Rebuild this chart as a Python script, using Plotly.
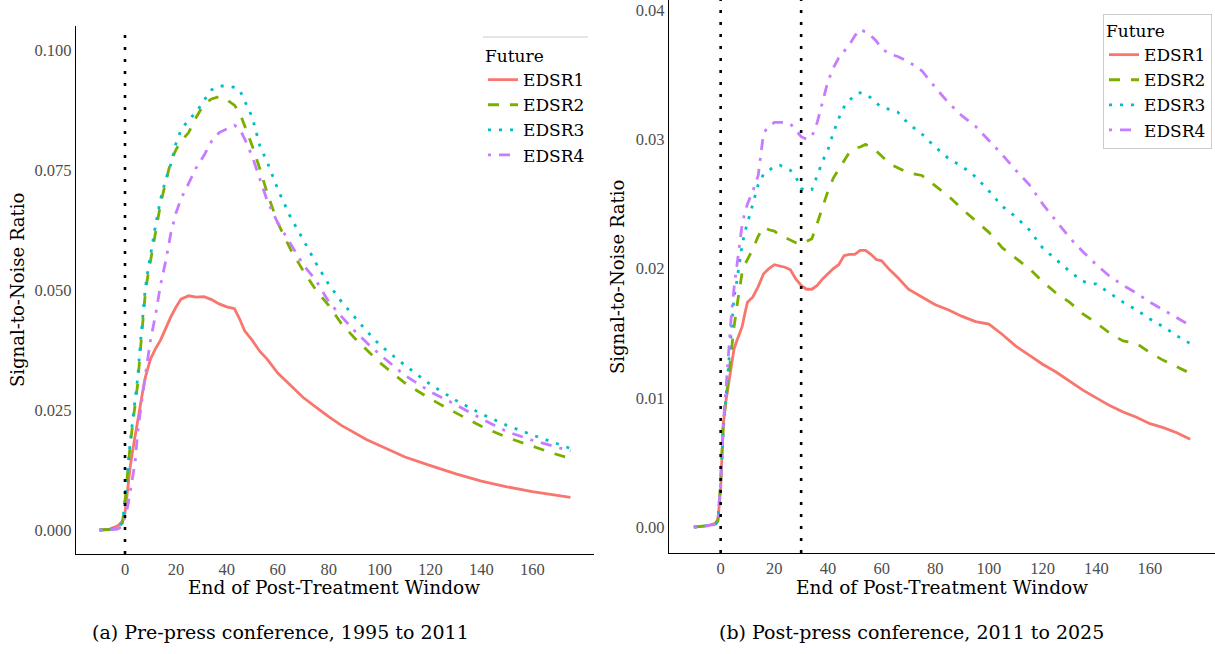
import plotly.graph_objects as go

# ---------------- data: left panel (Pre-press conference, 1995 to 2011) ----------------
x_left = [-10, -6, -3, -1, 0, 1, 2, 3, 4, 5, 6, 7, 8, 9, 10, 12, 14, 16, 18, 20, 22, 25, 28,
          31, 34, 37, 40, 43, 45, 47, 50, 53, 56, 60, 65, 70, 75, 80, 85, 90, 95, 100, 110,
          120, 130, 140, 150, 160, 168, 175]
edsr1_left = [0.0000, 0.0002, 0.0008, 0.0018, 0.0035, 0.0085, 0.0130, 0.0165, 0.0198, 0.0228,
              0.0256, 0.0290, 0.0318, 0.0338, 0.0356, 0.0378, 0.0396, 0.0420, 0.0444, 0.0464,
              0.0481, 0.0488, 0.0485, 0.0486, 0.0480, 0.0471, 0.0465, 0.0461, 0.0440, 0.0415,
              0.0395, 0.0372, 0.0355, 0.0327, 0.0302, 0.0276, 0.0256, 0.0236, 0.0218, 0.0203,
              0.0188, 0.0176, 0.0152, 0.0134, 0.0117, 0.0102, 0.0090, 0.0080, 0.0073, 0.0068]
edsr2_left = [0.0000, 0.0001, 0.0005, 0.0015, 0.0060, 0.0120, 0.0175, 0.0220, 0.0260, 0.0305,
              0.0372, 0.0440, 0.0495, 0.0530, 0.0560, 0.0625, 0.0680, 0.0725, 0.0768, 0.0792,
              0.0810, 0.0828, 0.0860, 0.0887, 0.0898, 0.0903, 0.0896, 0.0885, 0.0870, 0.0842,
              0.0800, 0.0752, 0.0700, 0.0640, 0.0585, 0.0540, 0.0500, 0.0468, 0.0430, 0.0401,
              0.0374, 0.0349, 0.0306, 0.0273, 0.0244, 0.0216, 0.0193, 0.0174, 0.0160, 0.0149]
edsr3_left = [0.0000, 0.0001, 0.0005, 0.0015, 0.0062, 0.0125, 0.0180, 0.0228, 0.0270, 0.0318,
              0.0385, 0.0450, 0.0505, 0.0540, 0.0572, 0.0635, 0.0690, 0.0730, 0.0762, 0.0805,
              0.0833, 0.0855, 0.0870, 0.0895, 0.0917, 0.0925, 0.0925, 0.0922, 0.0917, 0.0893,
              0.0860, 0.0800, 0.0765, 0.0710, 0.0652, 0.0605, 0.0556, 0.0512, 0.0476, 0.0445,
              0.0414, 0.0386, 0.0343, 0.0303, 0.0270, 0.0242, 0.0218, 0.0198, 0.0183, 0.0170]
edsr4_left = [0.0000, 0.0000, 0.0002, 0.0008, 0.0028, 0.0048, 0.0078, 0.0110, 0.0142, 0.0205,
              0.0250, 0.0285, 0.0322, 0.0360, 0.0395, 0.0448, 0.0512, 0.0560, 0.0618, 0.0660,
              0.0690, 0.0722, 0.0755, 0.0780, 0.0810, 0.0828, 0.0836, 0.0843, 0.0836, 0.0815,
              0.0778, 0.0730, 0.0684, 0.0640, 0.0595, 0.0553, 0.0520, 0.0476, 0.0445, 0.0416,
              0.0390, 0.0366, 0.0322, 0.0288, 0.0261, 0.0232, 0.0205, 0.0187, 0.0175, 0.0165]

# ---------------- data: right panel (Post-press conference, 2011 to 2025) ----------------
x_right = [-10, -5, -2, -1, 0, 1, 2, 3, 4, 5, 6, 7, 8, 9, 10, 12, 14, 16, 18, 20, 22, 24, 26,
           28, 30, 32, 34, 36, 38, 40, 42, 44, 46, 48, 50, 52, 54, 56, 58, 60, 63, 66, 70, 75,
           80, 85, 90, 95, 100, 105, 110, 115, 120, 125, 130, 135, 140, 145, 150, 155, 160,
           165, 170, 175]
edsr1_right = [0.0000, 0.0001, 0.0003, 0.0006, 0.0030, 0.0080, 0.0098, 0.0112, 0.0125, 0.0138,
               0.0144, 0.0150, 0.0155, 0.0165, 0.0174, 0.0178, 0.0186, 0.0196, 0.0200, 0.0203,
               0.0202, 0.0201, 0.0199, 0.0192, 0.0187, 0.0184, 0.0184, 0.0187, 0.0192, 0.0196,
               0.0200, 0.0203, 0.0210, 0.0211, 0.0211, 0.0214, 0.0214, 0.0211, 0.0207, 0.0206,
               0.0199, 0.0193, 0.0184, 0.0178, 0.0172, 0.0168, 0.0163, 0.0159, 0.0157, 0.0149,
               0.0140, 0.0133, 0.0126, 0.0120, 0.0113, 0.0106, 0.0100, 0.0094, 0.0089, 0.0085,
               0.0080, 0.0077, 0.0073, 0.0068]
edsr2_right = [0.0000, 0.0001, 0.0002, 0.0005, 0.0035, 0.0080, 0.0100, 0.0117, 0.0138, 0.0155,
               0.0170, 0.0183, 0.0197, 0.0203, 0.0207, 0.0215, 0.0225, 0.0232, 0.0230, 0.0229,
               0.0226, 0.0224, 0.0222, 0.0220, 0.0219, 0.0221, 0.0223, 0.0235, 0.0248, 0.0260,
               0.0270, 0.0277, 0.0284, 0.0290, 0.0293, 0.0294, 0.0296, 0.0294, 0.0291, 0.0287,
               0.0281, 0.0278, 0.0274, 0.0272, 0.0264, 0.0256, 0.0246, 0.0237, 0.0228, 0.0216,
               0.0208, 0.0200, 0.0190, 0.0181, 0.0174, 0.0165, 0.0158, 0.0150, 0.0144, 0.0142,
               0.0135, 0.0129, 0.0124, 0.0119]
edsr3_right = [0.0000, 0.0001, 0.0002, 0.0005, 0.0035, 0.0075, 0.0102, 0.0128, 0.0155, 0.0178,
               0.0190, 0.0204, 0.0218, 0.0228, 0.0236, 0.0250, 0.0265, 0.0273, 0.0276, 0.0279,
               0.0280, 0.0278, 0.0276, 0.0271, 0.0262, 0.0260, 0.0261, 0.0272, 0.0283, 0.0292,
               0.0305, 0.0316, 0.0325, 0.0330, 0.0334, 0.0336, 0.0335, 0.0332, 0.0328, 0.0325,
               0.0323, 0.0321, 0.0312, 0.0304, 0.0294, 0.0285, 0.0279, 0.0271, 0.0260, 0.0248,
               0.0240, 0.0230, 0.0216, 0.0207, 0.0198, 0.0190, 0.0188, 0.0181, 0.0174, 0.0168,
               0.0161, 0.0155, 0.0148, 0.0142]
edsr4_right = [0.0000, 0.0001, 0.0002, 0.0005, 0.0035, 0.0080, 0.0110, 0.0138, 0.0164, 0.0185,
               0.0203, 0.0220, 0.0234, 0.0243, 0.0250, 0.0260, 0.0272, 0.0305, 0.0310, 0.0313,
               0.0313, 0.0313, 0.0312, 0.0307, 0.0302, 0.0300, 0.0302, 0.0313, 0.0330, 0.0345,
               0.0355, 0.0363, 0.0368, 0.0373, 0.0380, 0.0385, 0.0383, 0.0380, 0.0376, 0.0370,
               0.0366, 0.0364, 0.0360, 0.0353, 0.0340, 0.0328, 0.0318, 0.0310, 0.0299, 0.0288,
               0.0276, 0.0265, 0.0250, 0.0237, 0.0224, 0.0213, 0.0203, 0.0194, 0.0187, 0.0181,
               0.0174, 0.0168, 0.0162, 0.0156]

series_names = ["EDSR1", "EDSR2", "EDSR3", "EDSR4"]
vlines_left = [0]
vlines_right = [0, 30]
x_ticks = [0, 20, 40, 60, 80, 100, 120, 140, 160]
y_ticks_left = [0.0, 0.025, 0.05, 0.075, 0.1]
y_ticks_right = [0.0, 0.01, 0.02, 0.03, 0.04]
caption_left = "(a) Pre-press conference, 1995 to 2011"
caption_right = "(b) Post-press conference, 2011 to 2025"
x_title = "End of Post-Treatment Window"
y_title = "Signal-to-Noise Ratio"

# ---------------- styling ----------------
W, H = 1215, 654
colors = ["#F8766D", "#7CAE00", "#00BFC4", "#C77CFF"]
dashes = ["solid", "11px,11px", "3px,8px", "3px,8px,11px,8px"]
SERIF = "Liberation Serif"
WIDE = "DejaVu Serif"
CAP = "DejaVu Serif"

def px_x(p):
    return p / W

def px_y(p):
    return 1 - p / H

fig = go.Figure()
left_vals = [edsr1_left, edsr2_left, edsr3_left, edsr4_left]
right_vals = [edsr1_right, edsr2_right, edsr3_right, edsr4_right]
for name, ys, c, d in zip(series_names, left_vals, colors, dashes):
    fig.add_trace(go.Scatter(x=x_left, y=ys, mode="lines", name=name,
                             line=dict(color=c, width=2.8, dash=d),
                             xaxis="x", yaxis="y", legend="legend"))
for name, ys, c, d in zip(series_names, right_vals, colors, dashes):
    fig.add_trace(go.Scatter(x=x_right, y=ys, mode="lines", name=name,
                             line=dict(color=c, width=2.8, dash=d),
                             xaxis="x2", yaxis="y2", legend="legend2"))

for v in vlines_left:
    fig.add_shape(type="line", x0=v, x1=v, y0=0, y1=1, xref="x", yref="y domain",
                  line=dict(color="black", width=2.6, dash="3px,9px"))
for v in vlines_right:
    fig.add_shape(type="line", x0=v, x1=v, y0=0, y1=1, xref="x2", yref="y2 domain",
                  line=dict(color="black", width=2.6, dash="3px,9px"))

axis_common = dict(showgrid=False, zeroline=False, showline=True, linecolor="black",
                   linewidth=1.3, ticks="", tickfont=dict(family=SERIF, size=16.5, color="#4d4d4d"))

legend_font = dict(family=WIDE, size=17, color="black")
legend_title_font = dict(family=WIDE, size=17, color="black")

fig.update_layout(
    width=W, height=H,
    margin=dict(l=0, r=0, t=0, b=0),
    paper_bgcolor="white", plot_bgcolor="white",
    xaxis=dict(domain=[px_x(76), px_x(594)], range=[-19.25, 184.25], tickvals=x_ticks,
               anchor="y", **axis_common),
    yaxis=dict(domain=[px_y(554), px_y(26)], range=[-0.005, 0.105], tickvals=y_ticks_left,
               tickformat=".3f", anchor="x", **axis_common),
    xaxis2=dict(domain=[px_x(669), 1.0], range=[-19.25, 184.25], tickvals=x_ticks,
                anchor="y2", **axis_common),
    yaxis2=dict(domain=[px_y(553), 1.0], range=[-0.002, 0.04077], tickvals=y_ticks_right,
                tickformat=".2f", anchor="x2", **axis_common),
    legend=dict(x=px_x(483), y=px_y(40), xanchor="left", yanchor="top",
                bgcolor="rgba(255,255,255,0)", borderwidth=0, tracegroupgap=0,
                title=dict(text="Future", font=legend_title_font),
                font=legend_font),
    legend2=dict(x=px_x(1103), y=px_y(14), xanchor="left", yanchor="top",
                 bgcolor="white", bordercolor="#cccccc", borderwidth=1,
                 title=dict(text="Future", font=legend_title_font),
                 font=legend_font),
    showlegend=True,
)

# legend top rule for the left panel
fig.add_shape(type="line", xref="paper", yref="paper", x0=px_x(483), x1=px_x(588),
              y0=px_y(37), y1=px_y(37), line=dict(color="#cccccc", width=1))

# axis titles
fig.add_annotation(text=x_title, x=px_x(334), y=px_y(587), xref="paper", yref="paper",
                   showarrow=False, font=dict(family=WIDE, size=18.5, color="black"),
                   xanchor="center", yanchor="middle")
fig.add_annotation(text=x_title, x=px_x(942), y=px_y(587), xref="paper", yref="paper",
                   showarrow=False, font=dict(family=WIDE, size=18.5, color="black"),
                   xanchor="center", yanchor="middle")
fig.add_annotation(text=y_title, x=px_x(18), y=px_y(290), xref="paper", yref="paper",
                   showarrow=False, textangle=-90, font=dict(family=WIDE, size=18, color="black"),
                   xanchor="center", yanchor="middle")
fig.add_annotation(text=y_title, x=px_x(617), y=px_y(277), xref="paper", yref="paper",
                   showarrow=False, textangle=-90, font=dict(family=WIDE, size=18, color="black"),
                   xanchor="center", yanchor="middle")
# captions
fig.add_annotation(text=caption_left, x=px_x(280), y=px_y(632), xref="paper", yref="paper",
                   showarrow=False, font=dict(family=CAP, size=19, color="black"),
                   xanchor="center", yanchor="middle")
fig.add_annotation(text=caption_right, x=px_x(911), y=px_y(632), xref="paper", yref="paper",
                   showarrow=False, font=dict(family=CAP, size=19, color="black"),
                   xanchor="center", yanchor="middle")

fig.write_html("out.html")
